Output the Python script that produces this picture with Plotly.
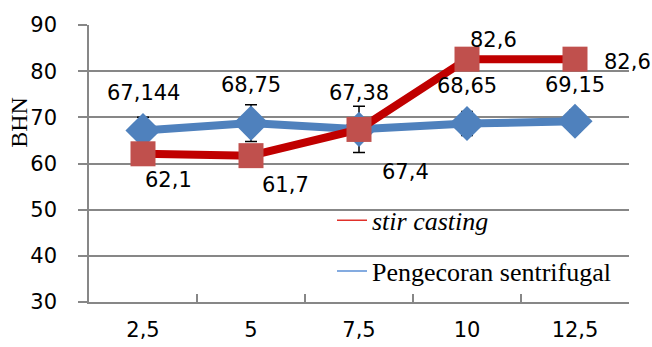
import plotly.graph_objects as go

# Fraction values (x categories) and hardness results
categories = ["2,5", "5", "7,5", "10", "12,5"]
stir_casting = [62.1, 61.7, 67.38, 82.6, 82.6]
sentrifugal = [67.144, 68.75, 67.4, 68.65, 69.15]
sentrifugal_err = [2.9, 4.0, 5.0, 2.6, 2.4]

# Label offsets (pixels) for each point's value text
stir_label_shift = [(25, -26), (34, -29), (0, 36), (26, 19), (52, -3)]
sent_label_shift = [(0, 38), (0, 38), (46, -43), (0, 38), (0, 36)]

RED_LINE = "#C00000"
RED_MARK = "#C0504D"
BLUE = "#4F81BD"
GRID = "#878787"
SANS = "DejaVu Sans"
SERIF = "Liberation Serif"


def fmt(v):
    return f"{v:g}".replace(".", ",")


fig = go.Figure()

fig.add_trace(go.Scatter(
    x=categories, y=sentrifugal, mode="lines+markers",
    line=dict(color=BLUE, width=8),
    marker=dict(symbol="diamond", size=27, color=BLUE),
    error_y=dict(type="data", array=sentrifugal_err, color="black",
                 thickness=1.5, width=6),
    showlegend=False, cliponaxis=False,
))
fig.add_trace(go.Scatter(
    x=categories, y=stir_casting, mode="lines+markers",
    line=dict(color=RED_LINE, width=8),
    marker=dict(symbol="square", size=25, color=RED_MARK),
    showlegend=False, cliponaxis=False,
))

# Legend entries drawn as thin lines only
fig.add_trace(go.Scatter(
    x=[None], y=[None], mode="lines", name="<i>stir casting</i>",
    line=dict(color="#E0302A", width=1.5), legendgroup="a",
))
fig.add_trace(go.Scatter(
    x=[None], y=[None], mode="lines", name="Pengecoran sentrifugal",
    line=dict(color="#5B8FD6", width=1.5), legendgroup="b",
))

# Value labels; x given as category index so numeric-looking names are not misread
annotations = []
for i, (v, (dx, dy)) in enumerate(zip(sentrifugal, sent_label_shift)):
    annotations.append(dict(x=i, y=v, text=fmt(v), showarrow=False,
                            xshift=dx, yshift=dy,
                            font=dict(family=SANS, size=21, color="black")))
for i, (v, (dx, dy)) in enumerate(zip(stir_casting, stir_label_shift)):
    annotations.append(dict(x=i, y=v, text=fmt(v), showarrow=False,
                            xshift=dx, yshift=dy,
                            font=dict(family=SANS, size=21, color="black")))

annotations.append(dict(
    xref="paper", yref="paper", x=-0.13, y=0.65, xanchor="center",
    yanchor="middle", text="BHN", textangle=-90,
    showarrow=False, font=dict(family=SERIF, size=24, color="black"),
))

fig.update_layout(
    width=652, height=347,
    margin=dict(l=89, r=23, t=25, b=45, autoexpand=False),
    paper_bgcolor="white", plot_bgcolor="white",
    annotations=annotations,
    showlegend=True,
    legend=dict(
        x=0.45, y=0.38, xanchor="left", yanchor="top",
        bgcolor="rgba(0,0,0,0)", tracegroupgap=14,
        font=dict(family=SERIF, size=26, color="black"),
    ),
    xaxis=dict(
        type="category", categoryorder="array", categoryarray=categories,
        range=[-0.5, 4.5], showgrid=False, automargin=False,
        showline=True, linecolor=GRID, linewidth=1.5,
        ticks="inside", tickson="boundaries", ticklen=8, tickcolor=GRID,
        tickwidth=1.5, ticklabelstandoff=8,
        tickfont=dict(family=SANS, size=21, color="black"),
    ),
    yaxis=dict(
        range=[30, 90], dtick=10, showgrid=True, gridcolor=GRID, gridwidth=1.5,
        showline=True, linecolor=GRID, linewidth=1.5, zeroline=False,
        automargin=False,
        ticks="outside", ticklen=9, tickcolor=GRID, tickwidth=1.5,
        ticklabelstandoff=17,
        tickfont=dict(family=SANS, size=21, color="black"),
    ),
)

fig.write_html("out.html")
